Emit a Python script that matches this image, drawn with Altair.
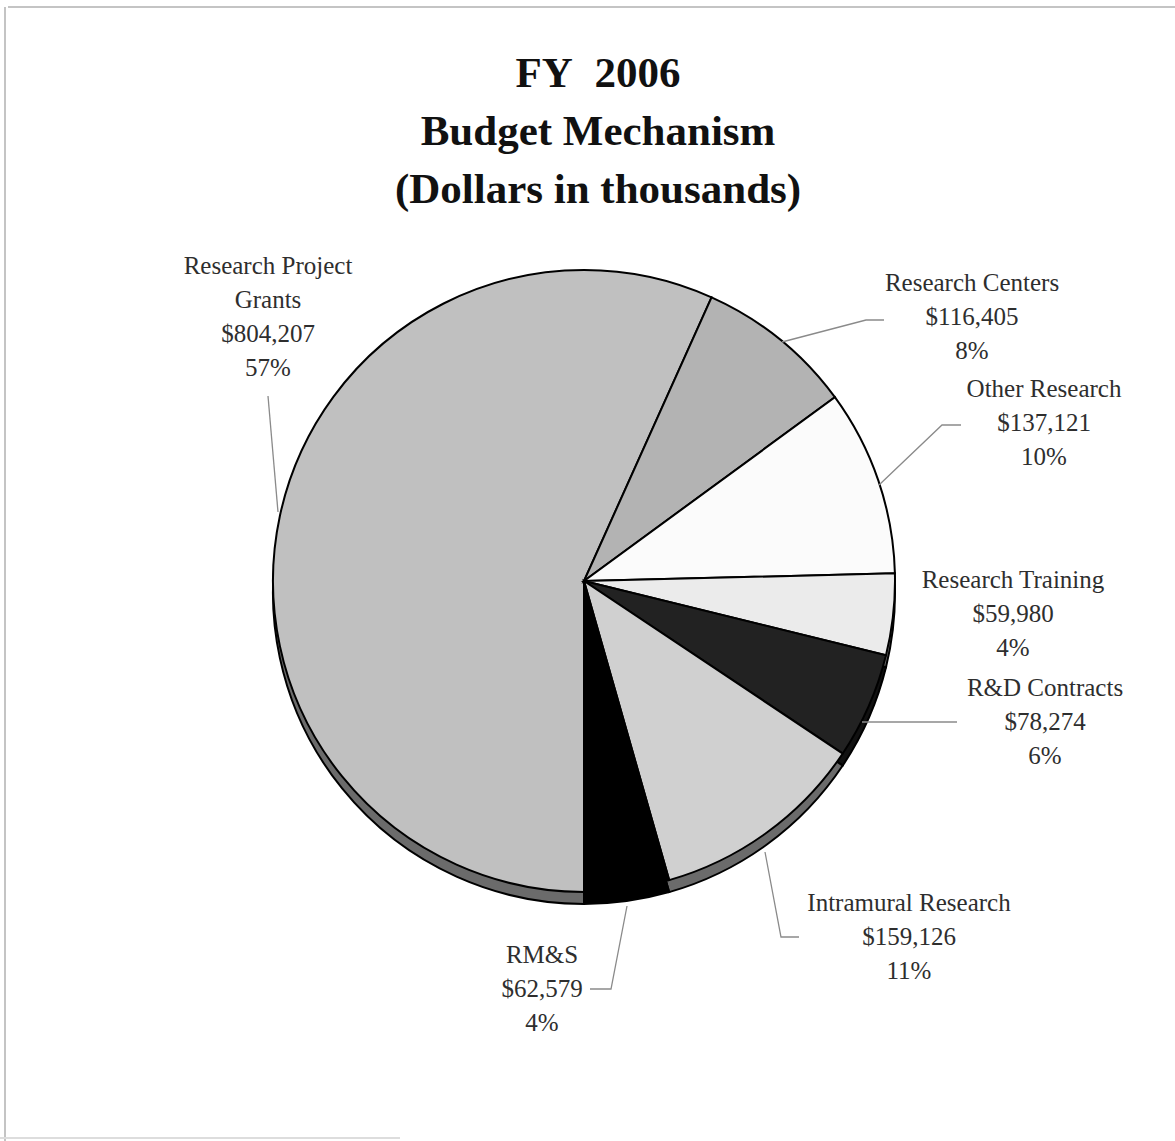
import math
import altair as alt
import pandas as pd

# ---- data ----
names = ["Research Project Grants", "Research Centers", "Other Research",
         "Research Training", "R&D Contracts", "Intramural Research", "RM&S"]
values = [804207, 116405, 137121, 59980, 78274, 159126, 62579]
amounts = ["$804,207", "$116,405", "$137,121", "$59,980", "$78,274", "$159,126", "$62,579"]
percents = ["57%", "8%", "10%", "4%", "6%", "11%", "4%"]
label_heads = ["Research Project\nGrants", "Research Centers", "Other Research",
               "Research Training", "R&D Contracts", "Intramural Research", "RM&S"]

# ---- styles / layout ----
fills = ["#c0c0c0", "#b3b3b3", "#fbfbfb", "#ebebeb", "#222222", "#d0d0d0", "#000000"]
shadow_fills = ["#6b6b6b", "#5a5a5a", "#6b6b6b", "#6b6b6b", "#111111", "#6b6b6b", "#000000"]
W, H = 1175, 1141
CX, CY, R, DEPTH = 584, 581, 311, 12

label_x = [268, 972, 1044, 1013, 1045, 909, 542]
label_y = [274, 291, 397, 588, 696, 911, 963]

leaders = {
    "Research Project Grants": [(278, 512), (268, 396)],
    "Research Centers": [(782, 342), (866, 320), (884, 320)],
    "Other Research": [(879, 485), (942, 425), (961, 425)],
    "R&D Contracts": [(862, 722), (957, 722)],
    "Intramural Research": [(765, 852), (781, 937), (799, 937)],
    "RM&S": [(627, 906), (611, 989), (590, 989)],
}

title_lines = ["FY\u00a0\u00a02006", "Budget Mechanism", "(Dollars in thousands)"]

pie_df = pd.DataFrame({
    "name": names, "value": values, "order": list(range(len(names))),
    "fill": fills, "shadow": shadow_fills,
})
lab_df = pd.DataFrame({
    "text": [f"{h}\n{a}\n{p}" for h, a, p in zip(label_heads, amounts, percents)],
    "x": label_x, "y": label_y,
})
lead_rows = []
for k, pts in leaders.items():
    for i, (px, py) in enumerate(pts):
        lead_rows.append({"name": k, "seq": i, "x": px, "y": py})
lead_df = pd.DataFrame(lead_rows)

xs = alt.Scale(domain=[0, W], range=[0, W])
ys = alt.Scale(domain=[0, H], range=[0, H])

theta = alt.Theta("value:Q", stack=True,
                  scale=alt.Scale(range=[math.pi, 3 * math.pi]))

shadow = alt.Chart(pie_df).mark_arc(
    radius=R, stroke="black", strokeWidth=2
).encode(
    theta=theta, order=alt.Order("order:Q"),
    color=alt.Color("shadow:N", scale=None),
    x=alt.value(CX), y=alt.value(CY + DEPTH),
)

pie = alt.Chart(pie_df).mark_arc(
    radius=R, stroke="black", strokeWidth=2
).encode(
    theta=theta, order=alt.Order("order:Q"),
    color=alt.Color("fill:N", scale=None),
    x=alt.value(CX), y=alt.value(CY),
)

lines = alt.Chart(lead_df).mark_line(color="#8a8a8a", strokeWidth=1.3).encode(
    x=alt.X("x:Q", scale=xs, axis=None),
    y=alt.Y("y:Q", scale=ys, axis=None),
    detail="name:N", order="seq:Q",
)

labels = alt.Chart(lab_df).mark_text(
    font="Liberation Serif", fontSize=25, color="#2e2e2e",
    align="center", baseline="alphabetic", lineBreak="\n", lineHeight=34,
).encode(
    x=alt.X("x:Q", scale=xs, axis=None),
    y=alt.Y("y:Q", scale=ys, axis=None),
    text="text:N",
)

title_df = pd.DataFrame({"text": ["\n".join(title_lines)]})
title = alt.Chart(title_df).mark_text(
    font="Liberation Serif", fontSize=43, fontWeight="bold", color="#111111",
    align="center", baseline="alphabetic", lineBreak="\n", lineHeight=58,
).encode(
    x=alt.value(598), y=alt.value(87), text="text:N",
)

frame_top = alt.Chart(pd.DataFrame({"a": [0]})).mark_rule(
    color="#c4c4c4", strokeWidth=2
).encode(x=alt.value(8), x2=alt.value(W), y=alt.value(7))
frame_left = alt.Chart(pd.DataFrame({"a": [0]})).mark_rule(
    color="#c4c4c4", strokeWidth=2
).encode(x=alt.value(5), y=alt.value(7), y2=alt.value(H))
frame_bottom = alt.Chart(pd.DataFrame({"a": [0]})).mark_rule(
    color="#dddddd", strokeWidth=2
).encode(x=alt.value(0), x2=alt.value(400), y=alt.value(1138))

chart = alt.layer(
    frame_top, frame_left, frame_bottom, shadow, pie, lines, labels, title
).properties(
    width=W, height=H, padding=0,
    autosize=alt.AutoSizeParams(type="none"),
    background="white",
).configure_view(stroke=None)

chart.save("out.html", embed_options={"renderer": "svg", "actions": False})
